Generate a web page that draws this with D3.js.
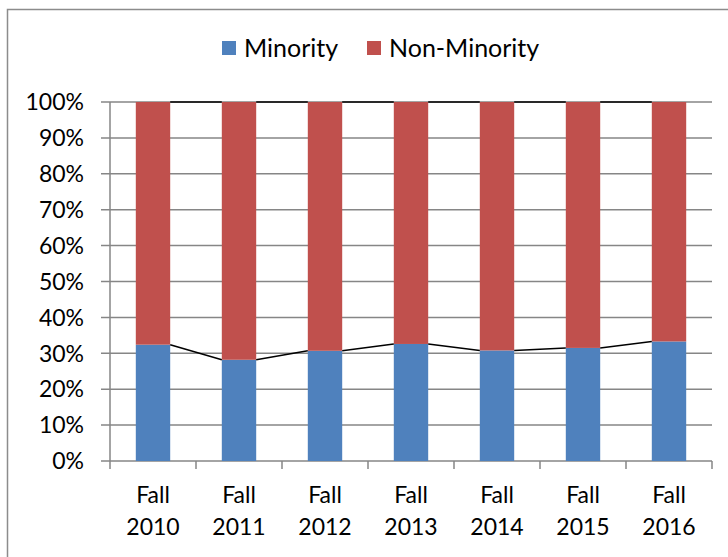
<!DOCTYPE html>
<html><head><meta charset="utf-8">
<script src="https://cdn.jsdelivr.net/npm/d3@7"></script>
<style>body{margin:0;background:#fff}svg{display:block}</style>
</head><body>
<svg id="c" width="728" height="557"></svg>
<script>
const categories = ["Fall 2010","Fall 2011","Fall 2012","Fall 2013","Fall 2014","Fall 2015","Fall 2016"];
const minority = [32.4, 28.2, 30.7, 32.6, 30.8, 31.5, 33.3];
const nonMinority = minority.map(v => 100 - v);
const yTicks = [0,10,20,30,40,50,60,70,80,90,100];
const seriesNames = ["Minority","Non-Minority"];
const colors = ["#4F81BD","#C0504D"];

const svg = d3.select("#c");
const font = "Lato, 'Liberation Sans', sans-serif";
const L = 110, R = 712, T = 102, B = 461;

svg.append("rect").attr("x",7.5).attr("y",9.5).attr("width",740).attr("height",560)
  .attr("fill","#fff").attr("stroke","#8c8c8c").attr("stroke-width",1.5);

const x = d3.scaleBand().domain(categories).range([L,R]).paddingInner(0.6).paddingOuter(0.3);
const y = d3.scaleLinear().domain([0,100]).range([B,T]);

// gridlines
svg.append("g").selectAll("line").data(yTicks).join("line")
  .attr("x1",L-9).attr("x2",R).attr("y1",d=>y(d)).attr("y2",d=>y(d))
  .attr("stroke","#868686").attr("stroke-width",1.5);

// y axis labels
svg.append("g").selectAll("text").data(yTicks).join("text")
  .attr("x",84).attr("y",d=>y(d)).attr("dy","0.36em").attr("text-anchor","end")
  .attr("font-family",font).attr("font-size",23).attr("fill","#000")
  .text(d=>d+"%");

// y axis line
svg.append("line").attr("x1",L).attr("x2",L).attr("y1",T).attr("y2",B)
  .attr("stroke","#868686").attr("stroke-width",1.5);

// x axis ticks
const step = x.step();
const tickXs = d3.range(categories.length+1).map(i => L + i*step);
svg.append("g").selectAll("line").data(tickXs).join("line")
  .attr("x1",d=>d).attr("x2",d=>d).attr("y1",B).attr("y2",B+8)
  .attr("stroke","#868686").attr("stroke-width",1.5);

// stacked bars
const stackData = categories.map((c,i)=>({cat:c, Minority:minority[i], "Non-Minority":nonMinority[i]}));
const stacked = d3.stack().keys(seriesNames)(stackData);
svg.append("g").selectAll("g").data(stacked).join("g")
  .attr("fill",(d,i)=>colors[i])
  .selectAll("rect").data(d=>d).join("rect")
  .attr("x",d=>x(d.data.cat)).attr("width",x.bandwidth())
  .attr("y",d=>y(d[1])).attr("height",d=>y(d[0])-y(d[1]));

// series lines
stacked.forEach(s=>{
  const segs = d3.range(categories.length-1).map(i=>({
    x1: x(categories[i])+x.bandwidth(), y1: y(s[i][1]),
    x2: x(categories[i+1]), y2: y(s[i+1][1])
  }));
  svg.append("g").selectAll("line").data(segs).join("line")
    .attr("x1",d=>d.x1).attr("y1",d=>d.y1).attr("x2",d=>d.x2).attr("y2",d=>d.y2)
    .attr("stroke","#000").attr("stroke-width",1.5);
});

// x labels
const xl = svg.append("g").selectAll("text").data(categories).join("text")
  .attr("text-anchor","middle").attr("font-family",font).attr("font-size",23).attr("fill","#000");
xl.each(function(d){
  const parts = d.split(" ");
  const cx = x(d)+x.bandwidth()/2;
  d3.select(this).selectAll("tspan").data(parts).join("tspan")
    .attr("x",cx).attr("y",(p,i)=>503+i*32).text(p=>p);
});

// legend
const lg = svg.append("g");
const legendItems = [{name:seriesNames[0],color:colors[0],x:222},{name:seriesNames[1],color:colors[1],x:367}];
legendItems.forEach(it=>{
  lg.append("rect").attr("x",it.x).attr("y",41).attr("width",14).attr("height",14).attr("fill",it.color);
  lg.append("text").attr("x",it.x+22).attr("y",48).attr("dy","0.36em")
    .attr("font-family",font).attr("font-size",25).attr("fill","#000").text(it.name);
});
</script>
</body></html>
